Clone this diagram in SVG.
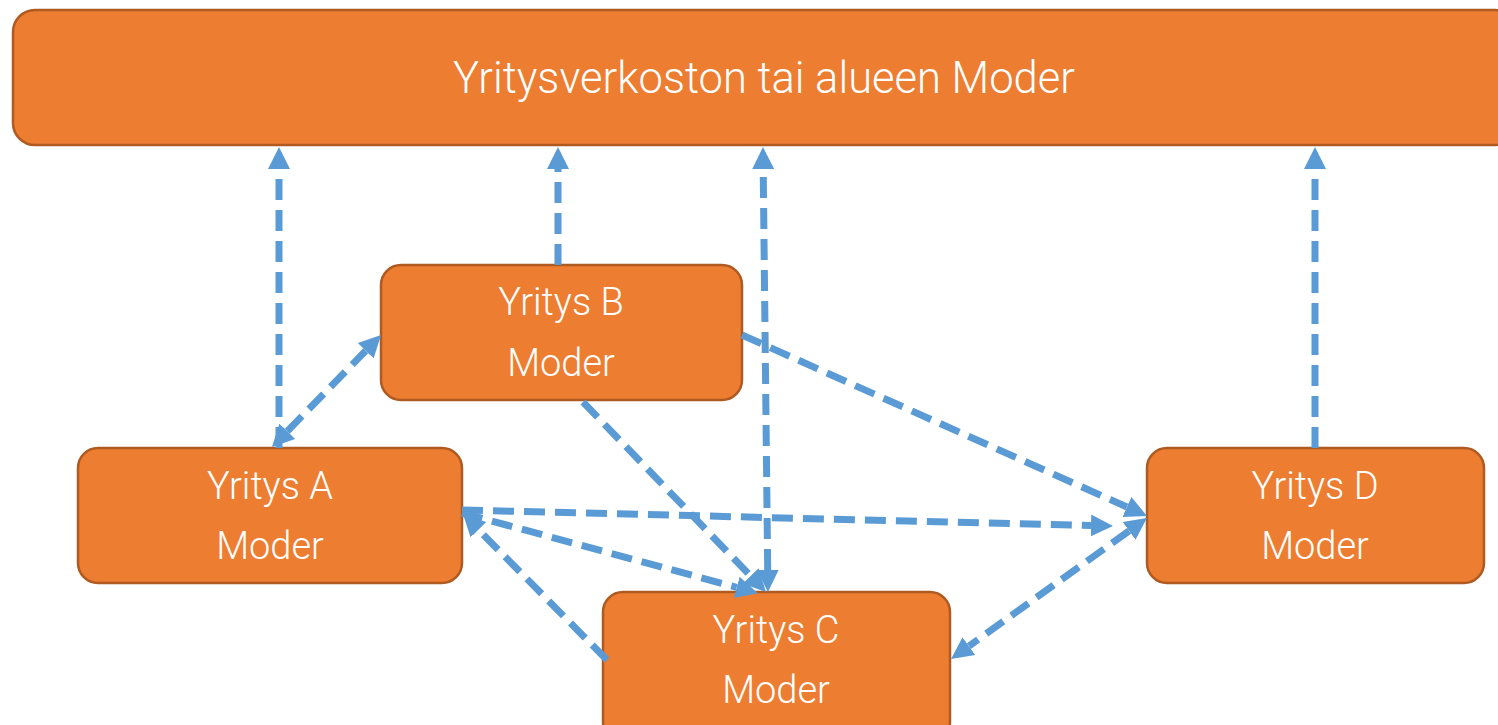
<svg xmlns="http://www.w3.org/2000/svg" width="1498" height="725" viewBox="0 0 1498 725">
  <style>
    .box { fill: #ED7D31; stroke: #AE5A21; stroke-width: 2.5; }
    .lbl { fill: #FFFFFF; font-family: Roboto, "Liberation Sans", sans-serif; font-weight: 300; text-anchor: middle; }
    .title { font-size: 43.5px; }
    .name { font-size: 38px; }
    .link { fill: none; stroke: #5B9BD5; stroke-width: 7; stroke-dasharray: 21 10; }
  </style>
  <defs>
    <marker id="head" markerUnits="userSpaceOnUse" markerWidth="24" markerHeight="24" viewBox="0 -12 24 24" refX="0" refY="0" orient="auto-start-reverse">
      <path d="M0,-11 L22,0 L0,11 z" fill="#5B9BD5"/>
    </marker>
  </defs>

  <!-- network level -->
  <g id="network">
    <rect class="box" x="13" y="10" width="1504" height="135" rx="22"/>
    <text class="lbl title" x="764" y="93">Yritysverkoston tai alueen Moder</text>
  </g>

  <g id="yritys-b">
    <rect class="box" x="381" y="265" width="361" height="135" rx="20"/>
    <text class="lbl name" x="561" y="315">Yritys B</text>
    <text class="lbl name" x="561" y="376">Moder</text>
  </g>

  <g id="yritys-a">
    <rect class="box" x="78" y="448" width="384" height="135" rx="20"/>
    <text class="lbl name" x="270" y="499">Yritys A</text>
    <text class="lbl name" x="270" y="559">Moder</text>
  </g>

  <g id="yritys-d">
    <rect class="box" x="1147" y="448" width="337" height="135" rx="20"/>
    <text class="lbl name" x="1315" y="499">Yritys D</text>
    <text class="lbl name" x="1315" y="559">Moder</text>
  </g>

  <g id="yritys-c">
    <rect class="box" x="603" y="592" width="347" height="150" rx="20"/>
    <text class="lbl name" x="776" y="643">Yritys C</text>
    <text class="lbl name" x="776" y="703">Moder</text>
  </g>

  <!-- connectors: lines stop at the arrowhead base, markers carry the tips -->
  <g id="connectors">
    <line class="link" x1="279" y1="448" x2="279" y2="169" marker-end="url(#head)"/>
    <line class="link" x1="287.3" y1="431.2" x2="365.7" y2="350.8" marker-start="url(#head)" marker-end="url(#head)"/>
    <line class="link" x1="558" y1="265" x2="558" y2="169" marker-end="url(#head)"/>
    <line class="link" x1="767.7" y1="570" x2="763.2" y2="169" marker-start="url(#head)" marker-end="url(#head)"/>
    <line class="link" x1="1315" y1="448" x2="1315" y2="169" marker-end="url(#head)"/>
    <line class="link" x1="742" y1="335" x2="1126.9" y2="507" marker-end="url(#head)"/>
    <line class="link" x1="462" y1="510" x2="1091" y2="525.5" marker-end="url(#head)"/>
    <line class="link" x1="1129.1" y1="530.9" x2="968.9" y2="646.1" marker-start="url(#head)" marker-end="url(#head)"/>
    <line class="link" x1="607" y1="660" x2="478.4" y2="529.7" marker-end="url(#head)"/>
    <line class="link" x1="462" y1="513" x2="736.7" y2="587.4" marker-end="url(#head)"/>
    <line class="link" x1="583" y1="402" x2="750.6" y2="576" marker-end="url(#head)"/>
  </g>
</svg>
